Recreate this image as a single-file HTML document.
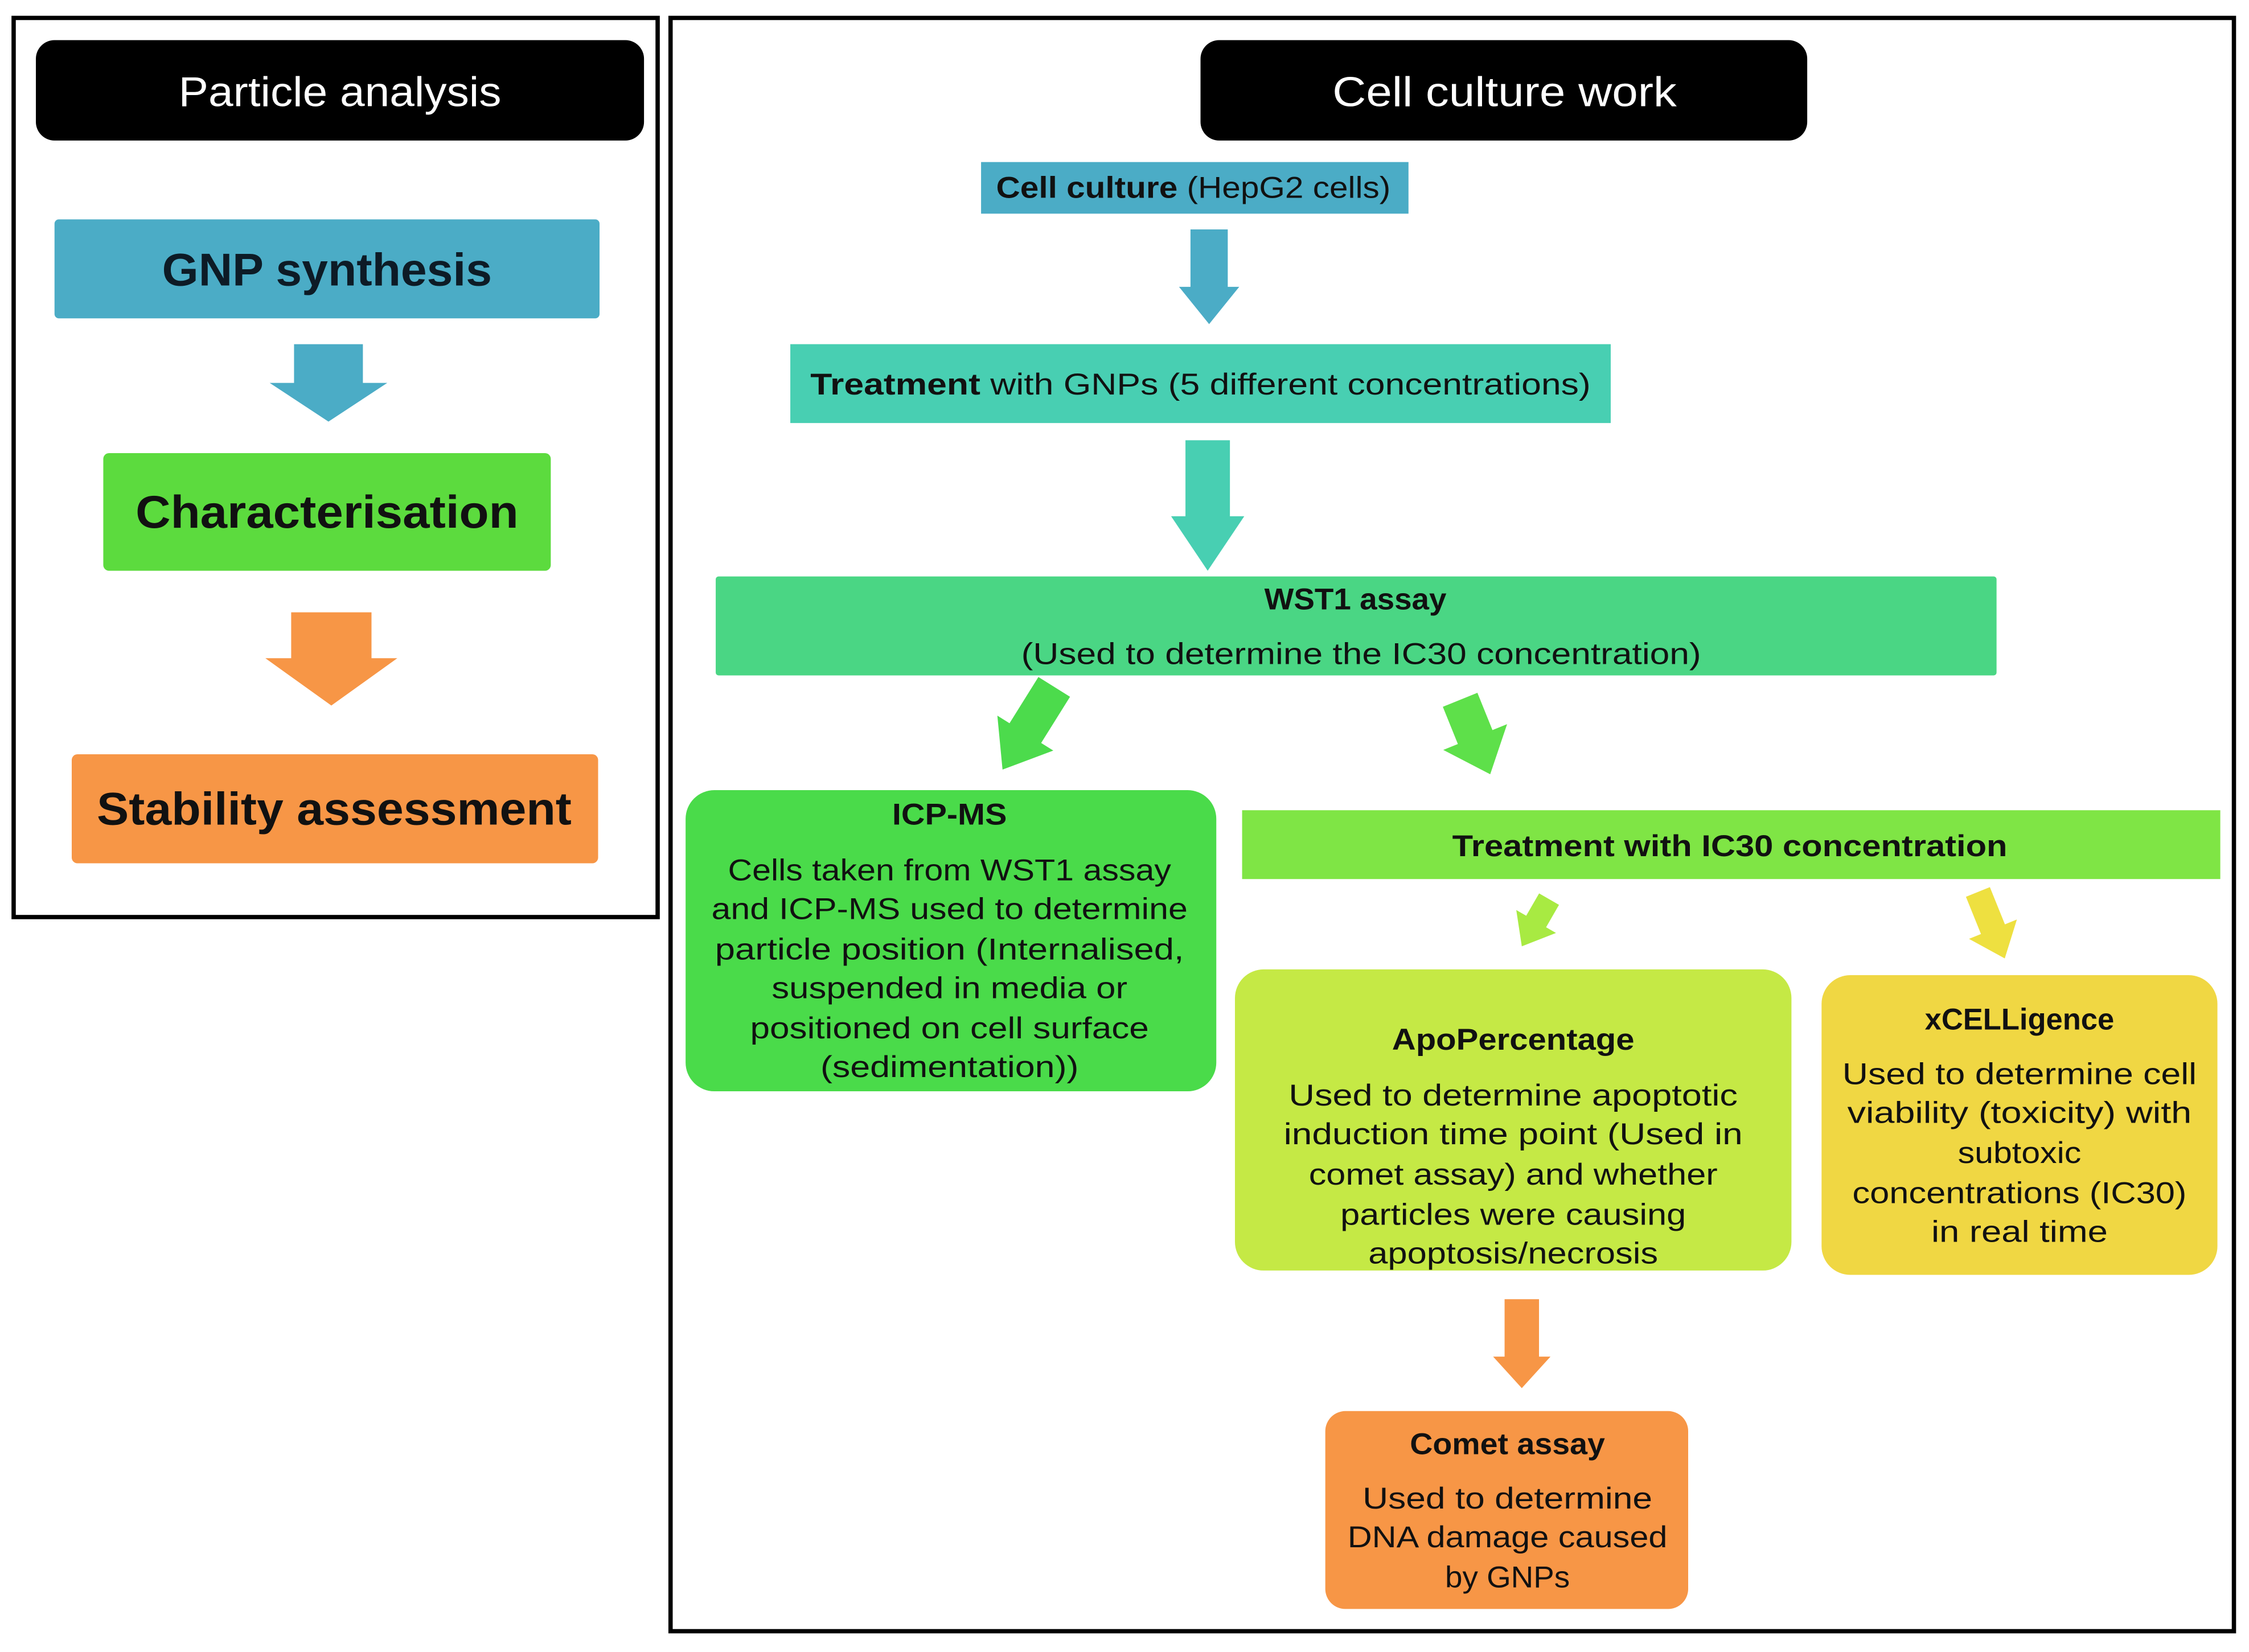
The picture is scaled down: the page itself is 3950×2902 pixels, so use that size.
<!DOCTYPE html>
<html><head><meta charset="utf-8"><style>
html,body{margin:0;padding:0;background:#fff;}
svg{display:block;}
text{font-family:"Liberation Sans",sans-serif;fill:#111;}
.b{font-weight:bold;}
</style></head><body>
<svg width="3950" height="2902" viewBox="0 0 1568 1152" xmlns="http://www.w3.org/2000/svg">
<rect x="0" y="0" width="1568" height="1152" fill="#fff"/>
<!-- left panel -->
<rect x="9.5" y="12.5" width="449" height="627" fill="none" stroke="#000" stroke-width="3"/>
<rect x="25" y="28" width="424" height="70" rx="13" fill="#000"/>
<text x="237" y="74" font-size="29" text-anchor="middle" style="fill:#fff" textLength="225" lengthAdjust="spacingAndGlyphs">Particle analysis</text>
<rect x="38" y="153" width="380" height="69" rx="3" fill="#4BACC6"/>
<text x="228" y="199" font-size="32" text-anchor="middle" class="b" style="fill:#0d1b26" textLength="230" lengthAdjust="spacingAndGlyphs">GNP synthesis</text>
<path transform="translate(229,240)" d="M-24 0H24V27H41L0 54L-41 27H-24Z" fill="#4BACC6"/>
<rect x="72" y="316" width="312" height="82" rx="4" fill="#5CDB3E"/>
<text x="228" y="368" font-size="32" text-anchor="middle" class="b" textLength="267" lengthAdjust="spacingAndGlyphs">Characterisation</text>
<path transform="translate(231,427)" d="M-28 0H28V32H46L0 65L-46 32H-28Z" fill="#F79646"/>
<rect x="50" y="526" width="367" height="76" rx="4" fill="#F79646"/>
<text x="233" y="575" font-size="32" text-anchor="middle" class="b" textLength="331" lengthAdjust="spacingAndGlyphs">Stability assessment</text>

<!-- right panel -->
<rect x="467.5" y="12.5" width="1090" height="1125" fill="none" stroke="#000" stroke-width="3"/>
<rect x="837" y="28" width="423" height="70" rx="13" fill="#000"/>
<text x="1049" y="74" font-size="29" text-anchor="middle" style="fill:#fff" textLength="240" lengthAdjust="spacingAndGlyphs">Cell culture work</text>
<rect x="684" y="113" width="298" height="36" fill="#4BACC6"/>
<text x="832" y="138" font-size="21" text-anchor="middle" textLength="275" lengthAdjust="spacingAndGlyphs"><tspan class="b">Cell culture</tspan> (HepG2 cells)</text>
<path transform="translate(843,160)" d="M-13 0H13V40H21L0 66L-21 40H-13Z" fill="#4BACC6"/>
<rect x="551" y="240" width="572" height="55" fill="#48CFB2"/>
<text x="837" y="275" font-size="21" text-anchor="middle" textLength="544" lengthAdjust="spacingAndGlyphs"><tspan class="b">Treatment</tspan>  with GNPs (5 different concentrations)</text>
<path transform="translate(842,307)" d="M-15.5 0H15.5V53H25.5L0 91L-25.5 53H-15.5Z" fill="#48CFB2"/>
<rect x="499" y="402" width="893" height="69" rx="2" fill="#4AD684"/>
<text x="945" y="425" font-size="21" text-anchor="middle" class="b" textLength="127" lengthAdjust="spacingAndGlyphs">WST1 assay</text>
<text x="949" y="463" font-size="21" text-anchor="middle" textLength="474" lengthAdjust="spacingAndGlyphs">(Used to determine the IC30 concentration)</text>

<path transform="translate(735,479) rotate(32)" d="M-13 0H13V38H23L0 68L-23 38H-13Z" fill="#4CDB4C"/>
<path transform="translate(1018,488) rotate(-22)" d="M-13 0H13V28H24L0 56L-24 28H-13Z" fill="#5EE04A"/>

<rect x="478" y="551" width="370" height="210" rx="20" fill="#4ADB4A"/>
<text x="662" y="575" font-size="21" text-anchor="middle" class="b" textLength="80" lengthAdjust="spacingAndGlyphs">ICP-MS</text>
<g font-size="21" text-anchor="middle" lengthAdjust="spacingAndGlyphs">
<text x="662" y="614" textLength="309" lengthAdjust="spacingAndGlyphs">Cells taken from WST1 assay</text>
<text x="662" y="641" textLength="332" lengthAdjust="spacingAndGlyphs">and ICP-MS used to determine</text>
<text x="662" y="669" textLength="327" lengthAdjust="spacingAndGlyphs">particle position (Internalised,</text>
<text x="662" y="696" textLength="248" lengthAdjust="spacingAndGlyphs">suspended in media or</text>
<text x="662" y="724" textLength="278" lengthAdjust="spacingAndGlyphs">positioned on cell surface</text>
<text x="662" y="751" textLength="180" lengthAdjust="spacingAndGlyphs">(sedimentation))</text>
</g>

<rect x="866" y="565" width="682" height="48" fill="#7FE545"/>
<text x="1206" y="597" font-size="21" text-anchor="middle" class="b" textLength="387" lengthAdjust="spacingAndGlyphs">Treatment with IC30 concentration</text>

<path transform="translate(1080,627) rotate(30)" d="M-8 0H8V18H16L0 38L-16 18H-8Z" fill="#A8EA42"/>
<path transform="translate(1379,622) rotate(-22)" d="M-9 0H9V28H18L0 50L-18 28H-9Z" fill="#EEE040"/>

<rect x="861" y="676" width="388" height="210" rx="20" fill="#C5E945"/>
<text x="1055" y="732" font-size="21" text-anchor="middle" class="b" textLength="169" lengthAdjust="spacingAndGlyphs">ApoPercentage</text>
<g font-size="21" text-anchor="middle">
<text x="1055" y="771" textLength="313" lengthAdjust="spacingAndGlyphs">Used to determine apoptotic</text>
<text x="1055" y="798" textLength="320" lengthAdjust="spacingAndGlyphs">induction time point (Used in</text>
<text x="1055" y="826" textLength="285" lengthAdjust="spacingAndGlyphs">comet assay) and whether</text>
<text x="1055" y="854" textLength="241" lengthAdjust="spacingAndGlyphs">particles were causing</text>
<text x="1055" y="881" textLength="202" lengthAdjust="spacingAndGlyphs">apoptosis/necrosis</text>
</g>

<rect x="1270" y="680" width="276" height="209" rx="20" fill="#F0D743"/>
<text x="1408" y="718" font-size="21" text-anchor="middle" class="b" textLength="132" lengthAdjust="spacingAndGlyphs">xCELLigence</text>
<g font-size="21" text-anchor="middle">
<text x="1408" y="756" textLength="247" lengthAdjust="spacingAndGlyphs">Used to determine cell</text>
<text x="1408" y="783" textLength="240" lengthAdjust="spacingAndGlyphs">viability (toxicity) with</text>
<text x="1408" y="811" textLength="86" lengthAdjust="spacingAndGlyphs">subtoxic</text>
<text x="1408" y="839" textLength="233" lengthAdjust="spacingAndGlyphs">concentrations (IC30)</text>
<text x="1408" y="866" textLength="123" lengthAdjust="spacingAndGlyphs">in real time</text>
</g>

<path transform="translate(1061,906)" d="M-12 0H12V40H20L0 62L-20 40H-12Z" fill="#F79646"/>
<rect x="924" y="984" width="253" height="138" rx="14" fill="#F79646"/>
<text x="1051" y="1014" font-size="21" text-anchor="middle" class="b" textLength="136" lengthAdjust="spacingAndGlyphs">Comet assay</text>
<g font-size="21" text-anchor="middle">
<text x="1051" y="1052" textLength="202" lengthAdjust="spacingAndGlyphs">Used to determine</text>
<text x="1051" y="1079" textLength="223" lengthAdjust="spacingAndGlyphs">DNA damage caused</text>
<text x="1051" y="1107" textLength="87" lengthAdjust="spacingAndGlyphs">by GNPs</text>
</g>
</svg>
</body></html>
